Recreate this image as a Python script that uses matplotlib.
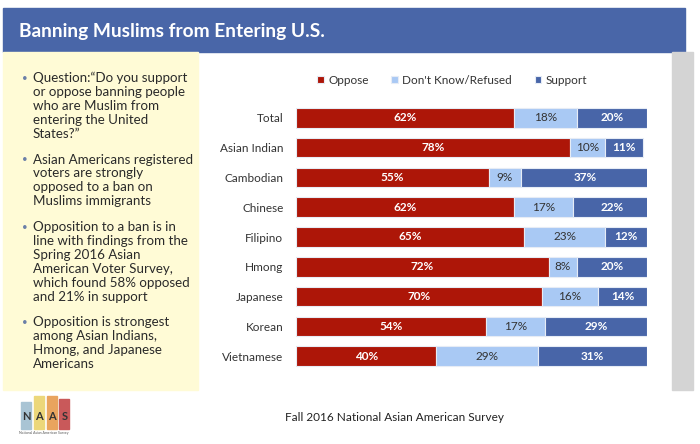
import matplotlib
matplotlib.use('Agg')
import matplotlib.pyplot as plt
from matplotlib.patches import Rectangle

# veriler
gruplar = ["Total", "Asian Indian", "Cambodian", "Chinese", "Filipino",
           "Hmong", "Japanese", "Korean", "Vietnamese"]
karsi = [62, 78, 55, 62, 65, 72, 70, 54, 40]
bilmiyor = [18, 10, 9, 17, 23, 8, 16, 17, 29]
destek = [20, 11, 37, 22, 12, 20, 14, 29, 31]

seri_adlari = ["Oppose", "Don't Know/Refused", "Support"]
renkler = ["#ad1608", "#a9c9f4", "#4865a8"]

maddeler = [
    ["Question:\u201cDo you support", "or oppose banning people",
     "who are Muslim from", "entering the United", "States?\u201d"],
    ["Asian Americans registered", "voters are strongly",
     "opposed to a ban on", "Muslims immigrants"],
    ["Opposition to a ban is in", "line with findings from the",
     "Spring 2016 Asian", "American Voter Survey,",
     "which found 58% opposed", "and 21% in support"],
    ["Opposition is strongest", "among Asian Indians,",
     "Hmong, and Japanese", "Americans"],
]

W, H = 700, 444
plt.rcParams['font.family'] = ['Lato', 'DejaVu Sans']
fig = plt.figure(figsize=(W / 100, H / 100), dpi=100)


def fx(x):
    return x / W


def fy(y):
    return 1 - y / H


# baslik bandi
fig.patches.append(Rectangle((fx(3), fy(52)), fx(682), 44 / H,
                             transform=fig.transFigure, color="#4966a8", zorder=0))
fig.text(fx(19), fy(31), "Banning Muslims from Entering U.S.", color="white",
         fontsize=13.8, fontweight="bold", va="center", ha="left")

# sol sari kutu
fig.patches.append(Rectangle((fx(3), fy(390)), fx(195), 338 / H,
                             transform=fig.transFigure, color="#fffbd6", zorder=0))
# sag gri serit
fig.patches.append(Rectangle((fx(672), fy(390)), fx(21), 338 / H,
                             transform=fig.transFigure, color="#d4d4d4", zorder=0))

# maddeler
satir = 13.9
y = 78
for madde in maddeler:
    fig.text(fx(22), fy(y), "\u2022", color="#6b7fa8", fontsize=7, va="center")
    for s in madde:
        fig.text(fx(33), fy(y), s, color="#2a2a2a", fontsize=9.6, va="center")
        y += satir
    y += 12

# logo
logo_renk = ["#a9c4d4", "#ecd77a", "#e9a45e", "#c9595a"]
logo_harf = ["N", "A", "A", "S"]
logo_y = [402, 396, 396, 399]
for i, (r, h, ly) in enumerate(zip(logo_renk, logo_harf, logo_y)):
    x0 = 21 + i * 12.8
    fig.patches.append(Rectangle((fx(x0), fy(429)), fx(10), (429 - ly) / H,
                                 transform=fig.transFigure, color=r, zorder=1))
    fig.text(fx(x0 + 5), fy(416), h, fontsize=8, fontweight="bold",
             color="#333333", ha="center", va="center")
fig.text(fx(44), fy(433), "National Asian American Survey", fontsize=2.5,
         color="#555555", ha="center", va="center")

# cubuk grafik
ax = fig.add_axes([fx(296), fy(371), fx(351), 268 / H])
n = range(len(gruplar))
sol = [0] * len(gruplar)
for deger, renk, ad in zip([karsi, bilmiyor, destek], renkler, seri_adlari):
    cubuklar = ax.barh(n, deger, left=sol, height=0.66, color=renk,
                       edgecolor="#e6ecf5", linewidth=0.8, label=ad)
    for c, v in zip(cubuklar, deger):
        beyaz = renk != renkler[1]
        ax.text(c.get_x() + c.get_width() / 2, c.get_y() + c.get_height() / 2,
                f"{v}%", ha="center", va="center", fontsize=8.5,
                color="white" if beyaz else "#333333",
                fontweight="bold" if beyaz else "normal")
    sol = [a + b for a, b in zip(sol, deger)]

ax.set_xlim(0, 100)
ax.set_ylim(len(gruplar) - 0.5, -0.5)
ax.set_yticks(list(n))
ax.set_yticklabels(gruplar, fontsize=8.5, color="#333333")
ax.tick_params(axis="y", length=0, pad=9)
ax.set_xticks([])
for k in ax.spines.values():
    k.set_visible(False)
ax.patch.set_alpha(0)

leg = ax.legend(loc="center", bbox_to_anchor=(0.445, 1 + (103 - 80) / 268),
                ncol=3, frameon=False, fontsize=8.5, handlelength=0.55,
                handleheight=0.55, handletextpad=0.4, columnspacing=1.9)
for t in leg.get_texts():
    t.set_color("#333333")

fig.text(fx(285), fy(417), "Fall 2016 National Asian American Survey",
         fontsize=8.5, color="#222222", va="center")

plt.savefig("out.png", dpi=100)
plt.close()
